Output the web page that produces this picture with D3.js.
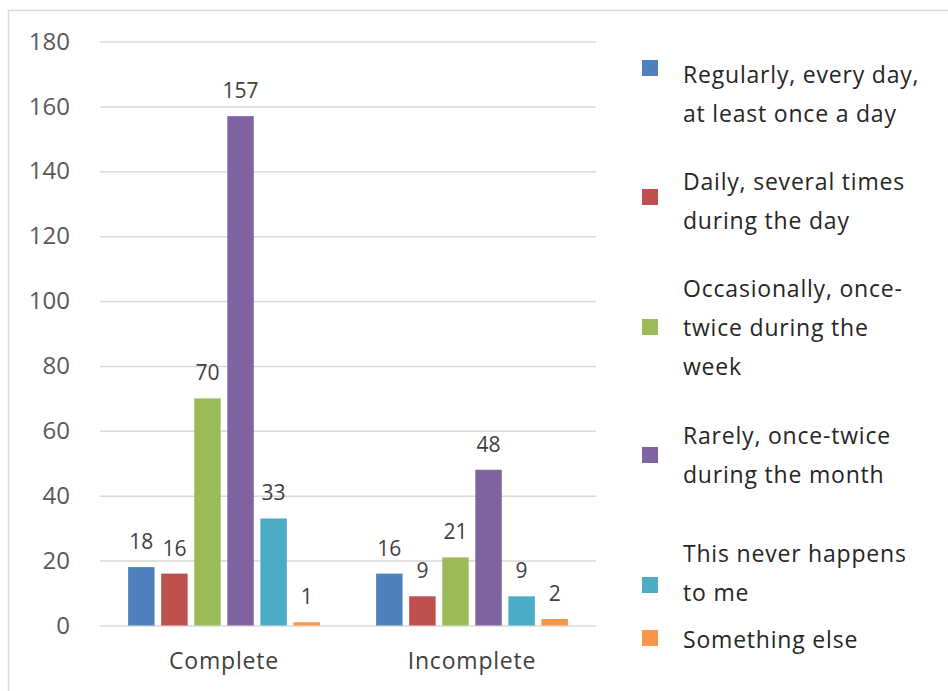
<!DOCTYPE html>
<html>
<head>
<meta charset="utf-8">
<script src="https://cdn.jsdelivr.net/npm/d3@7"></script>
<style>
  html, body { margin: 0; padding: 0; background: #fff; }
  svg { display: block; }
  svg text { font-family: "Open Sans", Lato, sans-serif; }
</style>
</head>
<body>
<svg id="chart" width="948" height="691"></svg>
<script>
// Chart data
const categories = ['Complete', 'Incomplete'];
const seriesNames = [
    'Regularly, every day, at least once a day',
    'Daily, several times during the day',
    'Occasionally, once-twice during the week',
    'Rarely, once-twice during the month',
    'This never happens to me',
    'Something else'
];
// wrapped lines as shown in the legend
const legendLines = [
    ['Regularly, every day,', 'at least once a day'],
    ['Daily, several times', 'during the day'],
    ['Occasionally, once-', 'twice during the', 'week'],
    ['Rarely, once-twice', 'during the month'],
    ['This never happens', 'to me'],
    ['Something else']
];
const completeValues = [18, 16, 70, 157, 33, 1];
const incompleteValues = [16, 9, 21, 48, 9, 2];
const yTicks = [0, 20, 40, 60, 80, 100, 120, 140, 160, 180];
const colors = ['#4F81BD', '#C0504D', '#9BBB59', '#8064A2', '#4BACC6', '#F79646'];

const svg = d3.select('#chart');

// outer chart frame (runs off the right and bottom edge)
svg.append('rect')
    .attr('x', 8.5).attr('y', 10.5)
    .attr('width', 960).attr('height', 700)
    .attr('fill', 'none')
    .attr('stroke', '#d9d9d9')
    .attr('stroke-width', 1.5);

const plot = { left: 100, right: 596, top: 41.5, bottom: 625.5 };

const x0 = d3.scaleBand()
    .domain(categories)
    .range([plot.left, plot.right])
    .paddingInner(0.2)
    .paddingOuter(0.1);

const x1 = d3.scaleBand()
    .domain(seriesNames)
    .range([0, x0.bandwidth()])
    .paddingInner(0.2)
    .paddingOuter(0.1);

const y = d3.scaleLinear()
    .domain([0, 180])
    .range([plot.bottom, plot.top]);

// gridlines + y labels
const yAxis = d3.axisLeft(y)
    .tickValues(yTicks)
    .tickSize(-(plot.right - plot.left))
    .tickPadding(30);

const yg = svg.append('g')
    .attr('transform', `translate(${plot.left},0)`)
    .call(yAxis)
    .attr('font-family', null);
yg.select('.domain').remove();
yg.selectAll('.tick line')
    .attr('stroke', '#d9d9d9')
    .attr('stroke-width', 1.5);
yg.selectAll('.tick text')
    .attr('fill', '#595959')
    .style('font-size', '24px');

// x axis labels
const xAxis = d3.axisBottom(x0).tickSize(0).tickPadding(27);
const xg = svg.append('g')
    .attr('transform', `translate(0,${plot.bottom})`)
    .call(xAxis)
    .attr('font-family', null);
xg.select('.domain').remove();
xg.selectAll('.tick text')
    .attr('fill', '#404040')
    .style('font-size', '23px')
    .style('letter-spacing', '0.8px');

const rows = categories.map((c, i) => ({
    category: c,
    values: [completeValues, incompleteValues][i]
}));

const groups = svg.selectAll('.group')
    .data(rows)
    .enter()
    .append('g')
    .attr('class', 'group')
    .attr('transform', d => `translate(${x0(d.category)},0)`);

groups.selectAll('rect')
    .data(d => d.values.map((v, i) => ({ name: seriesNames[i], value: v, i })))
    .enter()
    .append('rect')
    .attr('x', d => x1(d.name))
    .attr('y', d => y(d.value))
    .attr('width', x1.bandwidth())
    .attr('height', d => y(0) - y(d.value))
    .attr('fill', d => colors[d.i]);

groups.selectAll('.label')
    .data(d => d.values.map((v, i) => ({ name: seriesNames[i], value: v })))
    .enter()
    .append('text')
    .attr('class', 'label')
    .attr('x', d => x1(d.name) + x1.bandwidth() / 2)
    .attr('y', d => y(d.value) - 18)
    .attr('text-anchor', 'middle')
    .attr('fill', '#404040')
    .style('font-size', '21px')
    .text(d => d.value);

// legend - Excel lays these out a bit unevenly
const legendLineY = [75, 182, 289, 436, 554, 640];
const legendSwatchY = [68, 197, 327, 455, 585, 638];
const lineGap = 39;

const legend = svg.append('g').attr('class', 'legend');
legendLines.forEach((lines, i) => {
    legend.append('rect')
        .attr('x', 642)
        .attr('y', legendSwatchY[i] - 8)
        .attr('width', 16)
        .attr('height', 16)
        .attr('fill', colors[i]);
    lines.forEach((ln, j) => {
        legend.append('text')
            .attr('x', 683)
            .attr('y', legendLineY[i] + j * lineGap)
            .attr('dy', '0.35em')
            .attr('fill', '#262626')
            .style('font-size', '23px')
            .style('letter-spacing', '0.8px')
            .text(ln);
    });
});
</script>
</body>
</html>
